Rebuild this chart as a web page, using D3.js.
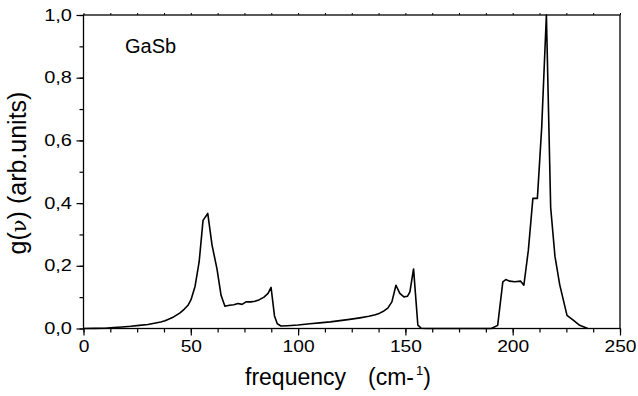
<!DOCTYPE html>
<html><head><meta charset="utf-8">
<script src="https://cdn.jsdelivr.net/npm/d3@7"></script>
<style>body{margin:0;background:#fff}svg{display:block}</style>
</head><body>
<svg id="c" width="638" height="396"></svg>
<script>
const freq = [0,5,10,14,18,22,26,30,33,36,38,40.4,42,45,47,48.7,50.1,52,53.9,55.7,57.9,59.9,62.2,64.1,65.9,68,70,72,73.9,75.7,78,79.9,82,84.1,86,87.4,89,90.3,92,95,100,105.5,110,115,119.5,124,128.8,133,136,138,140,141.8,143.7,145.6,147.4,149.3,151,152.1,153.8,155.8,157.3,160,190,193,195.4,196.8,198.6,201,203.7,205.2,207.3,209.4,211.5,213.5,215.7,217.7,219.7,221.9,225.3,228.5,231.2,235];
const gnu = [0,0.0005,0.001,0.003,0.005,0.007,0.01,0.013,0.017,0.021,0.025,0.032,0.037,0.05,0.062,0.074,0.092,0.135,0.213,0.345,0.367,0.266,0.19,0.106,0.071,0.074,0.076,0.08,0.077,0.085,0.085,0.087,0.092,0.1,0.112,0.131,0.04,0.015,0.008,0.009,0.011,0.015,0.018,0.021,0.025,0.029,0.034,0.039,0.044,0.049,0.056,0.065,0.085,0.138,0.112,0.101,0.103,0.117,0.19,0.011,0.001,0,0,0.01,0.149,0.156,0.151,0.149,0.151,0.138,0.25,0.415,0.415,0.64,1.0,0.385,0.23,0.14,0.042,0.025,0.01,0];
const xMajor = [0,50,100,150,200,250];
const yMajor = [0,0.2,0.4,0.6,0.8,1.0];
const xMinor = d3.range(0,250.1,12.5);
const yMinor = d3.range(0,1.001,0.1);

const FONT = "Liberation Sans, Arial, sans-serif";
const svg = d3.select("#c");
const L=83.5, R=620, T=15, B=328.5;
const x = d3.scaleLinear().domain([0,250]).range([L,R]);
const y = d3.scaleLinear().domain([0,1]).range([B,T]);
const fmtY = d => d3.format(".1f")(d).replace(".", ",");

// frame
svg.append("rect").attr("x",L).attr("y",T).attr("width",R-L).attr("height",B-T)
  .attr("fill","none").attr("stroke","#000").attr("stroke-width",1.3);

// bottom axis
const gx = svg.append("g").attr("transform",`translate(0,${B})`);
gx.call(d3.axisBottom(x).tickValues(xMinor).tickSize(4).tickFormat(""));
const gxm = gx.append("g").call(d3.axisBottom(x).tickValues(xMajor).tickSize(7).tickPadding(5).tickFormat(d3.format("d")));
gx.selectAll(".domain").remove();
gx.selectAll("line").attr("stroke","#000").attr("stroke-width",1.2);
gxm.selectAll("text").style("font-family",FONT).style("font-size","16px").style("fill","#000")
  .each(function(){ const t=d3.select(this); const yy=t.attr("y"); t.attr("y",0).attr("transform",`translate(0,${yy}) scale(1.2,1)`); });

// top ticks
const gt = svg.append("g").attr("transform",`translate(0,${T})`);
gt.call(d3.axisTop(x).tickValues(xMinor).tickSize(2).tickFormat(""));
gt.selectAll(".domain").remove();
gt.selectAll("line").attr("stroke","#000");

// left axis
const gy = svg.append("g").attr("transform",`translate(${L},0)`);
gy.call(d3.axisLeft(y).tickValues(yMinor).tickSize(4).tickFormat(""));
const gym = gy.append("g").call(d3.axisLeft(y).tickValues(yMajor).tickSize(7).tickPadding(4.5).tickFormat(fmtY));
gy.selectAll(".domain").remove();
gy.selectAll("line").attr("stroke","#000").attr("stroke-width",1.2);
gym.selectAll("text").style("font-family",FONT).style("font-size","16px").style("fill","#000")
  .each(function(){ const t=d3.select(this); const xx=t.attr("x"); t.attr("x",0).attr("transform",`translate(${xx},0) scale(1.25,1)`); });

// line
const line = d3.line().x((d,i)=>x(freq[i])).y(d=>y(d));
svg.append("path").datum(gnu).attr("d",line).attr("fill","none")
  .attr("stroke","#000").attr("stroke-width",1.6).attr("stroke-linejoin","round");

// label
svg.append("text").attr("x",125).attr("y",53).style("font-family",FONT).style("font-size","20px").text("GaSb");

// x title
const xt = svg.append("text").attr("x",245).attr("y",385).style("font-family",FONT).style("font-size","23px");
xt.append("tspan").text("frequency");
xt.append("tspan").attr("dx",22).text("(cm-");
xt.append("tspan").attr("dx",2).attr("dy",-10).style("font-size","13px").text("1");
xt.append("tspan").attr("dy",10).text(")");

// y title
const yt = svg.append("text").attr("transform","translate(26,173) rotate(-90)").attr("text-anchor","middle")
  .style("font-family",FONT).style("font-size","25px");
yt.append("tspan").text("g(");
yt.append("tspan").style("font-family","DejaVu Serif, serif").style("font-size","21px").text("ν");
yt.append("tspan").text(")");
yt.append("tspan").attr("dx",7).text("(arb.units)");
</script>
</body></html>
